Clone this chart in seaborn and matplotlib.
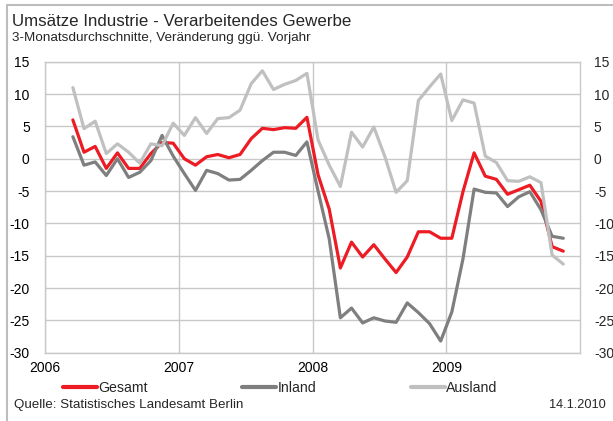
import numpy as np
import pandas as pd
import matplotlib
matplotlib.use("Agg")
import matplotlib.pyplot as plt
import seaborn as sns
from matplotlib.lines import Line2D

# monthly 3-month averages, March 2006 - November 2009
monate = pd.date_range("2006-03-01", "2009-11-01", freq="MS")

gesamt = [6.0, 1.0, 1.9, -1.5, 0.9, -1.5, -1.5, 0.8, 2.5, 2.4,
          0.0, -1.0, 0.3, 0.65, 0.15, 0.65, 3.1, 4.7, 4.5, 4.8, 4.7, 6.4,
          -2.5, -7.8, -16.9, -12.9, -15.2, -13.3, -15.5, -17.6, -15.2, -11.3, -11.3, -12.3,
          -12.3, -5.1, 0.9, -2.7, -3.2, -5.5, -4.8, -4.1, -6.6, -13.6, -14.3]

inland = [3.4, -1.0, -0.5, -2.6, 0.0, -2.9, -2.1, -0.3, 3.6, 0.4,
          -2.3, -4.9, -1.8, -2.3, -3.3, -3.2, -1.8, -0.3, 1.0, 1.0, 0.5, 2.6,
          -5.0, -12.4, -24.6, -23.1, -25.4, -24.6, -25.1, -25.3, -22.3, -23.8, -25.5, -28.2,
          -23.7, -15.5, -4.7, -5.2, -5.3, -7.4, -5.9, -5.1, -7.9, -12.0, -12.3]

ausland = [11.0, 4.65, 5.8, 0.8, 2.3, 1.0, -0.7, 2.3, 2.0, 5.5,
           3.6, 6.35, 3.9, 6.2, 6.35, 7.5, 11.6, 13.6, 10.7, 11.5, 12.1, 13.2,
           2.9, -1.0, -4.3, 4.1, 1.8, 4.9, 0.3, -5.2, -3.4, 9.0, 11.1, 13.1,
           5.9, 9.1, 8.6, 0.4, -0.6, -3.4, -3.5, -2.8, -3.7, -14.9, -16.3]

serien = ["Gesamt", "Inland", "Ausland"]
farben = {"Gesamt": "#ED1C24", "Inland": "#7F7F7F", "Ausland": "#C0C0C0"}
jahre = [2006, 2007, 2008, 2009]

# decimal year, points sit in the middle of each month
x_jahr = monate.year + (monate.month - 0.5) / 12

df = pd.DataFrame({"Zeit": np.tile(x_jahr, 3),
                   "Wert": gesamt + inland + ausland,
                   "Serie": np.repeat(serien, len(monate))})

sns.set_theme(style="white")
plt.rcParams["font.family"] = ["Liberation Sans", "DejaVu Sans"]
plt.rcParams["axes.unicode_minus"] = False

W, H = 613, 421
fig = plt.figure(figsize=(W / 100, H / 100), dpi=100)
ax = fig.add_axes([45 / W, 1 - 352.7 / H, (580 - 45) / W, (352.7 - 61.7) / H])

sns.lineplot(data=df, x="Zeit", y="Wert", hue="Serie", hue_order=serien,
             palette=farben, linewidth=2.3, ax=ax, legend=False, zorder=3)

gitter = "#C8C8C8"
ax.set_xlim(2006, 2010)
ax.set_ylim(-30, 15)
ax.set_yticks(range(-30, 16, 5))
ax.set_xticks(jahre)
ax.set_xticklabels([str(j) for j in jahre])
ax.grid(True, color=gitter, linewidth=1.0)
ax.set_xlabel("")
ax.set_ylabel("")
for s in ax.spines.values():
    s.set_color(gitter)
    s.set_linewidth(1.0)
ax.tick_params(axis="both", length=0, labelsize=10, colors="black")
ax.tick_params(axis="y", pad=11)
ax.tick_params(axis="x", pad=6)

ax2 = ax.twinx()
ax2.set_ylim(-30, 15)
ax2.set_yticks(range(-30, 16, 5))
ax2.tick_params(axis="y", length=0, labelsize=10, pad=10)
for s in ax2.spines.values():
    s.set_visible(False)
ax2.grid(False)

fig.text(12 / W, 1 - 21 / H, "Umsätze Industrie - Verarbeitendes Gewerbe",
         fontsize=12.2, va="center", ha="left")
fig.text(12 / W, 1 - 38 / H, "3-Monatsdurchschnitte, Veränderung ggü. Vorjahr",
         fontsize=9.7, va="center", ha="left")
fig.text(14 / W, 1 - 405 / H, "Quelle: Statistisches Landesamt Berlin",
         fontsize=9.6, va="center", ha="left")
fig.text(606 / W, 1 - 405 / H, "14.1.2010", fontsize=9.2, va="center", ha="right")

handles = [Line2D([0], [0], color=farben[s], linewidth=3) for s in serien]
fig.legend(handles, serien, loc="center left", bbox_to_anchor=(63 / W, 1 - 388 / H),
           ncol=3, frameon=False, fontsize=10.2, handlelength=2.4,
           handletextpad=0.07, columnspacing=6.7, borderpad=0, borderaxespad=0)

# light frame on top and left like the original export
fig.add_artist(Line2D([7 / W, 1], [1 - 5 / H, 1 - 5 / H], color="#BDBDBD", linewidth=1.5))
fig.add_artist(Line2D([7 / W, 7 / W], [0, 1 - 5 / H], color="#BDBDBD", linewidth=1.5))

fig.savefig("out.png", dpi=100)
